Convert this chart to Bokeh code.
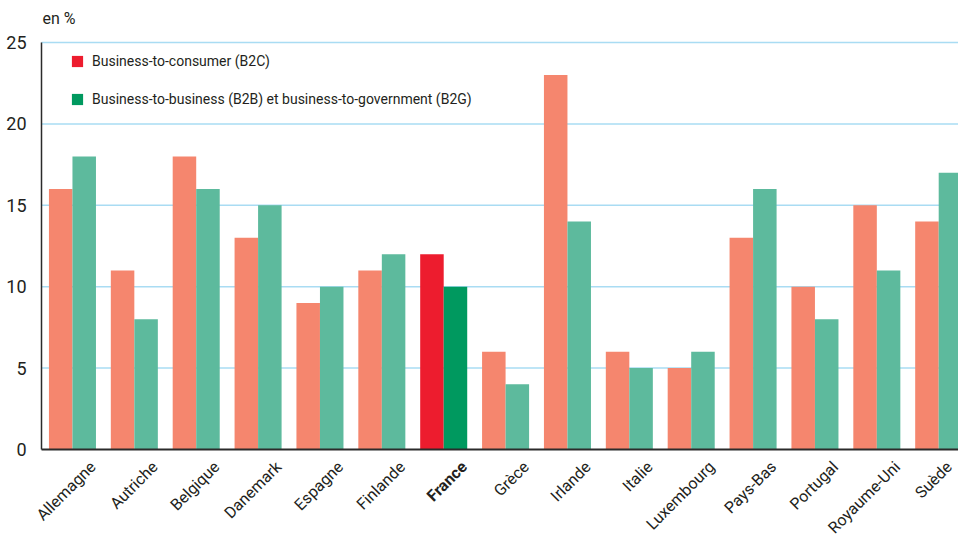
import math
from bokeh.plotting import figure
from bokeh.models import (ColumnDataSource, Legend, LegendItem, Range1d)
from bokeh.core.properties import value
from bokeh.transform import dodge
from bokeh.embed import file_html
from bokeh.resources import INLINE

countries = ["Allemagne", "Autriche", "Belgique", "Danemark", "Espagne", "Finlande",
             "France", "Grèce", "Irlande", "Italie", "Luxembourg", "Pays-Bas",
             "Portugal", "Royaume-Uni", "Suède"]
b2c = [16, 11, 18, 13, 9, 11, 12, 6, 23, 6, 5, 13, 10, 15, 14]
b2b = [18, 8, 16, 15, 10, 12, 10, 4, 14, 5, 6, 16, 8, 11, 17]
highlight = "France"
y_ticks = [0, 5, 10, 15, 20, 25]
legend_labels = ["Business-to-consumer (B2C)",
                 "Business-to-business (B2B) et business-to-government (B2G)"]

FONT = "Roboto"
TXT = "#231f20"
ORANGE = "#f5866e"
GREEN = "#5dba9d"
RED = "#ed1c2e"
DGREEN = "#00995f"
GRID = "#a9dcf3"
AXIS = "#2b2b2b"

X_START = -0.663  # room left of the y axis for tick labels
X_END = 14.82     # the source chart is cropped on the right
Y_START = -5.47   # room below zero for the rotated category labels
Y_END = 25.74     # room above the top tick for its label

# category slot positions (centre of each slot)
pos = [i + 0.5 for i in range(len(countries))]
# label anchors: slightly right of slot centre, kept inside the visible area
lab_x = [min(x + 0.33, X_END - 0.15) for x in pos]

others = [i for i, c in enumerate(countries) if c != highlight]
hi = [i for i, c in enumerate(countries) if c == highlight]
src_o = ColumnDataSource(dict(x=[pos[i] for i in others],
                              b2c=[b2c[i] for i in others],
                              b2b=[b2b[i] for i in others]))
src_h = ColumnDataSource(dict(x=[pos[i] for i in hi],
                              b2c=[b2c[i] for i in hi],
                              b2b=[b2b[i] for i in hi]))
src_lab = ColumnDataSource(dict(x=lab_x, country=countries,
                                style=["bold" if c == highlight else "normal" for c in countries]))
grid_y = y_ticks[1:]
src_grid = ColumnDataSource(dict(y=grid_y, x0=[0] * len(grid_y), x1=[X_END] * len(grid_y)))

p = figure(width=958, height=538,
           x_range=Range1d(X_START, X_END), y_range=Range1d(Y_START, Y_END),
           output_backend="svg", toolbar_location=None,
           min_border_left=0, min_border_right=0, min_border_bottom=0, min_border_top=30,
           title="en %")
p.outline_line_color = None
p.background_fill_color = "white"

p.title.text_font = FONT
p.title.text_font_size = "16px"
p.title.text_font_style = "normal"
p.title.text_color = TXT
p.title.align = "left"
p.title.offset = 42
p.title.standoff = 6

# horizontal grid lines, starting at the y axis
p.segment(x0="x0", x1="x1", y0="y", y1="y", source=src_grid,
          line_color=GRID, line_width=1.5, level="underlay")

W = 0.38
r1 = p.vbar(x=dodge("x", -0.19), top="b2c", width=W, source=src_o,
            fill_color=ORANGE, line_color=None)
r2 = p.vbar(x=dodge("x", 0.19), top="b2b", width=W, source=src_o,
            fill_color=GREEN, line_color=None)
r3 = p.vbar(x=dodge("x", -0.19), top="b2c", width=W, source=src_h,
            fill_color=RED, line_color=None)
r4 = p.vbar(x=dodge("x", 0.19), top="b2b", width=W, source=src_h,
            fill_color=DGREEN, line_color=None)

# baseline
p.segment(x0=0, x1=X_END, y0=0, y1=0, line_color=AXIS, line_width=2)

p.xgrid.grid_line_color = None
p.ygrid.grid_line_color = None
p.yaxis.fixed_location = 0
p.yaxis.ticker = y_ticks
p.yaxis.bounds = (0, 25)
p.yaxis.major_tick_line_color = None
p.yaxis.minor_tick_line_color = None
p.yaxis.axis_line_color = AXIS
p.yaxis.axis_line_width = 1.5
p.yaxis.major_label_text_font = FONT
p.yaxis.major_label_text_font_size = "18px"
p.yaxis.major_label_text_color = TXT
p.yaxis.major_label_standoff = 9

p.xaxis.visible = False

p.text(x="x", y=-0.9, text="country", source=src_lab,
       angle=math.pi / 4, text_align="right", text_baseline="middle",
       text_font=value(FONT), text_font_size=value("16px"), text_color=TXT,
       text_font_style="style")

legend = Legend(items=[LegendItem(label=legend_labels[0], renderers=[r3]),
                       LegendItem(label=legend_labels[1], renderers=[r4])],
                location=(70, 431), orientation="vertical",
                glyph_width=14, glyph_height=14, label_height=14, spacing=22,
                label_standoff=8, padding=0, margin=0,
                border_line_color=None, background_fill_alpha=0,
                label_text_font=FONT, label_text_font_size="14px", label_text_color=TXT)
p.add_layout(legend)

open("out.html", "w").write(file_html(p, INLINE))
